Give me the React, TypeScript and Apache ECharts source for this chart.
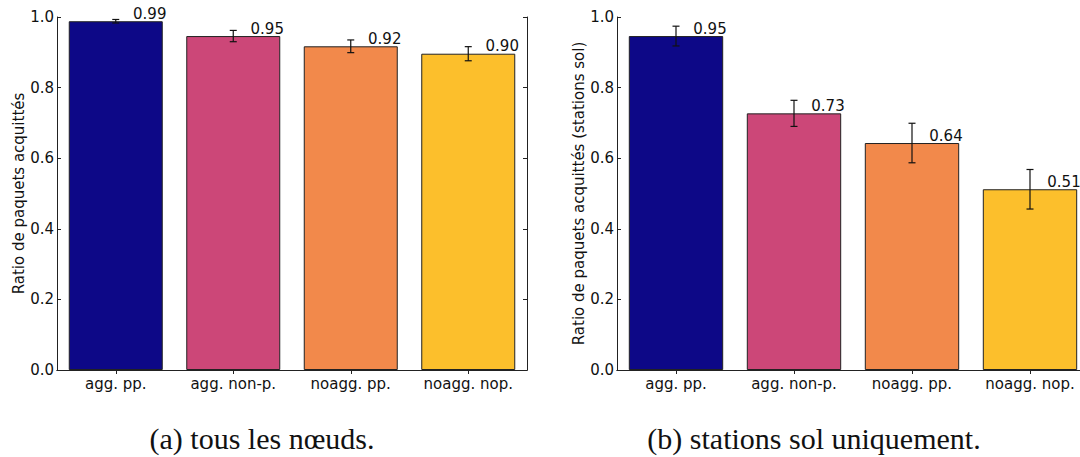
import React, { useEffect, useRef } from "react";
import * as echarts from "echarts";

const categories = ["agg. pp.", "agg. non-p.", "noagg. pp.", "noagg. nop."];
const barColors = ["#0d0887", "#cc4778", "#f2894b", "#fcbf2c"];

const allMeans = [0.988, 0.946, 0.917, 0.896];
const allErrors = [0.005, 0.016, 0.018, 0.02];

const groundMeans = [0.946, 0.727, 0.643, 0.512];
const groundErrors = [0.028, 0.037, 0.056, 0.056];

const yNameA = "Ratio de paquets acquittés";
const yNameB = "Ratio de paquets acquittés (stations sol)";
const captionA = "(a) tous les nœuds.";
const captionB = "(b) stations sol uniquement.";

const FONT = "DejaVu Sans";

function buildAxes(gi: number, name: string) {
  const xBottom = {
    type: "category",
    gridIndex: gi,
    data: categories,
    position: "bottom",
    boundaryGap: true,
    axisLine: { show: true, lineStyle: { color: "#222", width: 1 } },
    axisTick: { show: true, inside: true, alignWithLabel: true, length: 4, lineStyle: { color: "#222" } },
    axisLabel: { show: true, interval: 0, color: "#111", fontSize: 15, fontFamily: FONT, margin: 6 },
    splitLine: { show: false },
  };
  const xTop = {
    type: "category",
    gridIndex: gi,
    data: categories,
    position: "top",
    boundaryGap: true,
    axisLine: { show: true, lineStyle: { color: "#222", width: 1 } },
    axisTick: { show: true, inside: true, alignWithLabel: true, length: 4, lineStyle: { color: "#222" } },
    axisLabel: { show: false },
    splitLine: { show: false },
  };
  const yLeft = {
    type: "value",
    gridIndex: gi,
    min: 0,
    max: 1,
    interval: 0.2,
    position: "left",
    name,
    nameLocation: "middle",
    nameRotate: 90,
    nameGap: 28,
    nameTextStyle: { color: "#111", fontSize: 15, fontFamily: FONT },
    axisLine: { show: true, lineStyle: { color: "#222", width: 1 } },
    axisTick: { show: true, inside: true, length: 4, lineStyle: { color: "#222" } },
    axisLabel: {
      show: true,
      color: "#111",
      fontSize: 15,
      fontFamily: FONT,
      margin: 3,
      formatter: (v: number) => v.toFixed(1),
    },
    splitLine: { show: false },
  };
  const yRight = {
    type: "value",
    gridIndex: gi,
    min: 0,
    max: 1,
    interval: 0.2,
    position: "right",
    axisLine: { show: true, lineStyle: { color: "#222", width: 1 } },
    axisTick: { show: true, inside: true, length: 4, lineStyle: { color: "#222" } },
    axisLabel: { show: false },
    splitLine: { show: false },
  };
  return { xBottom, xTop, yLeft, yRight };
}

function barSeries(gi: number, means: number[]) {
  return {
    type: "bar",
    xAxisIndex: gi * 2,
    yAxisIndex: gi * 2,
    barWidth: "80%",
    data: means.map((v, i) => ({
      value: v,
      itemStyle: { color: barColors[i], borderColor: "#222", borderWidth: 1 },
    })),
    label: {
      show: true,
      position: "top",
      distance: 0,
      offset: [34, 0],
      color: "#111",
      fontSize: 15,
      fontFamily: FONT,
      formatter: (p: any) => Number(p.value).toFixed(2),
    },
    z: 2,
  };
}

function errorSeries(gi: number, means: number[], errs: number[]) {
  return {
    type: "custom",
    xAxisIndex: gi * 2,
    yAxisIndex: gi * 2,
    z: 5,
    data: means.map((m, i) => [i, m - errs[i], m + errs[i]]),
    renderItem: (params: any, api: any) => {
      const x = api.value(0);
      const lo = api.coord([x, api.value(1)]);
      const hi = api.coord([x, api.value(2)]);
      const cap = 3.5;
      const st = { stroke: "#111", lineWidth: 1.2 };
      return {
        type: "group",
        children: [
          { type: "line", shape: { x1: lo[0], y1: lo[1], x2: hi[0], y2: hi[1] }, style: st },
          { type: "line", shape: { x1: lo[0] - cap, y1: lo[1], x2: lo[0] + cap, y2: lo[1] }, style: st },
          { type: "line", shape: { x1: hi[0] - cap, y1: hi[1], x2: hi[0] + cap, y2: hi[1] }, style: st },
        ],
      };
    },
  };
}

export default function App() {
  const ref = useRef<HTMLDivElement>(null);
  useEffect(() => {
    if (!ref.current) return;
    const chart = echarts.init(ref.current, null, { renderer: "svg" });
    const a = buildAxes(0, yNameA);
    const b = buildAxes(1, yNameB);
    chart.setOption({
      animation: false,
      backgroundColor: "#fff",
      grid: [
        { left: 57, top: 17, width: 470, height: 353, containLabel: false },
        { left: 617, top: 17, width: 472, height: 353, containLabel: false },
      ],
      xAxis: [a.xBottom, a.xTop, b.xBottom, b.xTop],
      yAxis: [a.yLeft, a.yRight, b.yLeft, b.yRight],
      series: [
        barSeries(0, allMeans),
        errorSeries(0, allMeans, allErrors),
        barSeries(1, groundMeans),
        errorSeries(1, groundMeans, groundErrors),
      ],
      graphic: [
        {
          type: "text",
          x: 262,
          y: 438,
          style: {
            text: captionA,
            font: '30px "Liberation Serif"',
            fill: "#111",
            textAlign: "center",
            textVerticalAlign: "middle",
          },
        },
        {
          type: "text",
          x: 814,
          y: 438,
          style: {
            text: captionB,
            font: '30px "Liberation Serif"',
            fill: "#111",
            textAlign: "center",
            textVerticalAlign: "middle",
          },
        },
      ],
    });
    return () => chart.dispose();
  }, []);
  return (
    <div
      style={{
        position: "absolute",
        left: 0,
        top: 0,
        width: 1080,
        height: 457,
        overflow: "hidden",
        background: "#fff",
      }}
    >
      <div ref={ref} style={{ width: 1110, height: 457 }} />
    </div>
  );
}
